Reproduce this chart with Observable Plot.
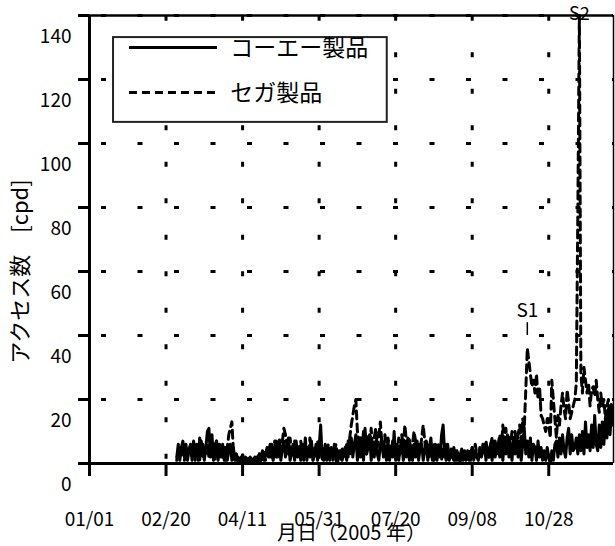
<!DOCTYPE html>
<html><head><meta charset="utf-8">
<script src="https://cdn.jsdelivr.net/npm/d3@7"></script>
<script src="https://cdn.jsdelivr.net/npm/@observablehq/plot@0.6"></script>
<style>body{margin:0;background:#fff}</style>
</head><body><div id="chart"></div>
<script>
// Series names (legend)
const seriesNames = ["コーエー製品", "セガ製品"];
// First day of the daily series (day of year 2005, 0 = 01/01) -> 02/27
const startDay = 57;
// Daily access counts [cpd], コーエー製品 (solid)
const koei = [
  2,6,1,5,7,2,6,1,4,6,
  1,7,2,6,1,8,3,6,1,5,
  10,11,2,9,1,6,7,1,5,2,
  6,1,5,1,4,6,1,5,1,3,
  1,0,2,1,0,2,1,0,2,1,
  1,2,0,2,3,1,4,1,3,5,
  2,6,3,1,5,7,2,6,1,5,
  7,2,5,8,1,3,6,1,7,2,
  5,1,6,2,8,1,5,2,7,1,
  3,6,1,5,12,2,1,6,1,5,
  1,4,2,6,1,0,3,4,1,3,
  5,1,7,3,8,2,6,9,1,7,
  2,8,1,11,3,5,9,1,6,2,
  7,3,1,6,8,2,5,1,7,1,
  5,2,10,1,6,1,5,7,1,6,
  2,8,1,5,1,6,2,7,1,5,
  6,1,4,7,1,5,8,2,1,6,
  1,5,2,9,12,3,1,6,1,4,
  2,1,4,1,3,0,4,1,3,1,
  4,1,3,5,1,4,2,1,5,2,
  4,6,1,5,2,6,1,7,2,5,
  6,2,8,1,7,3,9,2,6,1,
  8,3,9,2,7,1,6,11,3,7,
  2,8,1,6,5,1,7,2,5,1,
  4,1,5,2,0,4,1,6,7,2,
  8,3,9,4,2,8,11,3,9,4,
  5,8,3,9,4,10,3,13,5,9,
  4,12,5,15,6,4,12,5,13,6,
  14,8,17,9,16,12
];
// Daily access counts [cpd], セガ製品 (dashed)
const sega = [
  1,4,5,2,6,1,5,2,4,6,
  2,5,1,6,3,1,7,2,5,3,
  6,2,8,3,5,1,7,2,6,3,
  2,5,1,5,9,11,13,4,2,1,
  2,0,2,3,0,1,0,2,1,0,
  2,1,2,0,3,1,3,4,1,4,
  5,2,6,3,7,2,5,8,3,7,
  11,9,6,3,8,4,2,7,3,6,
  2,7,3,1,6,4,2,8,3,1,
  5,2,7,3,6,1,5,2,4,6,
  2,5,1,4,6,2,4,1,5,2,
  4,6,2,8,12,15,18,20,10,6,
  8,4,10,6,3,9,5,11,4,8,
  11,5,9,13,6,3,9,4,8,5,
  3,7,2,6,4,8,3,9,5,12,
  7,4,8,3,6,10,7,3,6,4,
  8,12,7,3,6,2,5,1,6,3,
  2,6,3,1,5,2,6,3,1,5,
  2,5,1,4,2,1,5,2,4,1,
  3,4,1,5,2,6,3,2,5,3,
  6,3,7,4,2,6,8,4,7,3,
  6,9,4,12,7,11,5,9,6,10,
  7,10,5,9,12,7,14,11,23,36,
  32,28,24,26,22,28,20,24,15,14,
  12,10,14,12,8,26,20,14,8,15,
  12,18,22,17,14,23,19,14,16,18,
  20,25,78,140,28,22,30,26,22,25,
  18,23,24,21,26,20,16,22,18,20,
  14,18,20,15,19,16
];
// Axis ticks
const yTicks = [0,20,40,60,80,100,120,140];
const yGrid = [20,40,60,80,100,120,140];
const xTickDays = [0,50,100,150,200,250,300];
const xTickLabels = ["01/01","02/20","04/11","05/31","07/20","09/08","10/28"];
const xDomain = [0, 342.3];
const yDomain = [0, 140];
// Peak annotations
const peakLabels = ["S1", "S2"];
const peakDays = [286, 320];

// Layout (data units), kept separate from data
const peakLayout = {labelY: [47.8, 140.3], tickTop: [44, 137], tickBottom: [40, 133], fontSize: [19, 18]};
const legendLayout = {x1: 15.7, x2: 194.5, y1: 106.6, y2: 133.1, sx1: 26.1, sx2: 83.6, tx: 92, rows: [130, 115.9]};

const toRows = arr => arr.map((v, i) => ({day: startDay + i, value: v}));
const koeiRows = toRows(koei);
const segaRows = toRows(sega);
const peaks = peakLabels.map((l, i) => ({label: l, day: peakDays[i], ly: peakLayout.labelY[i], t1: peakLayout.tickTop[i], t2: peakLayout.tickBottom[i], fs: peakLayout.fontSize[i]}));
const legendRows = seriesNames.map((n, i) => ({name: n, y: legendLayout.rows[i]}));

const font = "'Noto Sans CJK JP', 'Noto Sans', sans-serif";

const chart = Plot.plot({
  width: 615, height: 546,
  marginLeft: 89, marginRight: 2, marginTop: 15, marginBottom: 83,
  style: {fontFamily: font, background: "white", color: "black"},
  x: {type: "linear", domain: xDomain, label: null},
  y: {type: "linear", domain: yDomain, label: null},
  marks: [
    Plot.gridY(yGrid, {stroke: "black", strokeOpacity: 1, strokeWidth: 3, strokeDasharray: "5,31.5", strokeDashoffset: 24.5}),
    Plot.gridX(xTickDays.slice(1), {stroke: "black", strokeOpacity: 1, strokeWidth: 3, strokeDasharray: "5,31.5", strokeDashoffset: 35.8}),
    Plot.rect([legendLayout], {x1: "x1", x2: "x2", y1: "y1", y2: "y2", fill: "white", stroke: "#222", strokeWidth: 2}),
    Plot.ruleY([legendRows[0]], {y: "y", x1: legendLayout.sx1, x2: legendLayout.sx2, strokeWidth: 3}),
    Plot.ruleY([legendRows[1]], {y: "y", x1: legendLayout.sx1, x2: legendLayout.sx2, strokeWidth: 3, strokeDasharray: "8,5"}),
    Plot.text(legendRows, {x: legendLayout.tx, y: "y", text: "name", textAnchor: "start", fontSize: 23, dy: 1}),
    Plot.line(koeiRows, {x: "day", y: "value", stroke: "black", strokeWidth: 3, clip: true}),
    Plot.line(segaRows, {x: "day", y: "value", stroke: "black", strokeWidth: 3, strokeDasharray: "8,5", clip: true}),
    Plot.ruleY([yDomain[1]], {strokeWidth: 2.5}),
    Plot.ruleX([xDomain[1]], {strokeWidth: 1.5}),
    Plot.ruleY([0], {strokeWidth: 3}),
    Plot.ruleX([0], {strokeWidth: 3}),
    Plot.axisY(yTicks, {tickSize: 11, strokeWidth: 3, fill: "none", label: null}),
    Plot.axisY(yTicks, {tickSize: 0, tickPadding: 18, dy: 21, fontSize: 19, label: null}),
    Plot.axisX(xTickDays, {tickSize: 13, strokeWidth: 3, fill: "none", label: null}),
    Plot.axisX(xTickDays, {tickSize: 0, tickPadding: 49, fontSize: 19, tickFormat: d => xTickLabels[xTickDays.indexOf(d)], label: null}),
    Plot.text(peaks.slice(0, 1), {x: "day", y: "ly", text: "label", fontSize: 19}),
    Plot.text(peaks.slice(1), {x: "day", y: "ly", text: "label", fontSize: 18, fill: "black"}),
    Plot.ruleX(peaks, {x: "day", y1: "t1", y2: "t2", strokeWidth: 1.5}),
    Plot.text(["アクセス数　[cpd]"], {frameAnchor: "left", rotate: -90, textAnchor: "middle", lineAnchor: "middle", dx: -69, dy: 32, fontSize: 22}),
    Plot.text(["月日（2005 年）"], {frameAnchor: "bottom", textAnchor: "middle", lineAnchor: "middle", dy: 70, fontSize: 20})
  ]
});
document.getElementById("chart").append(chart);
</script>
</body></html>
